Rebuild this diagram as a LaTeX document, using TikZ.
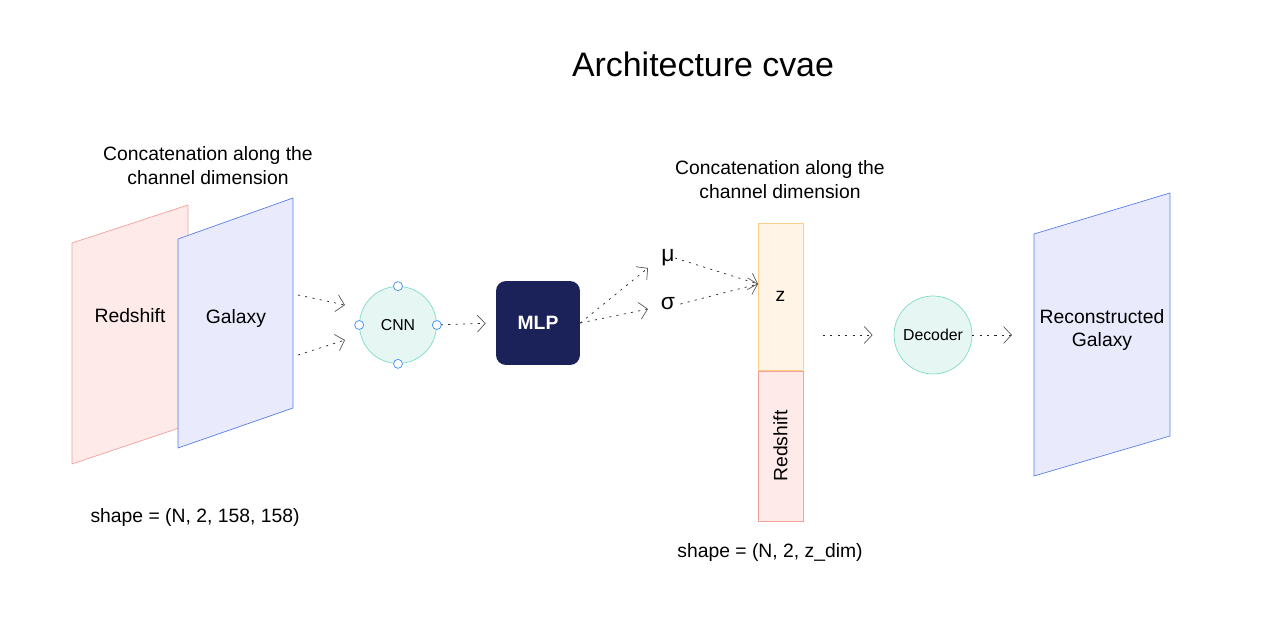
\documentclass[tikz,border=0pt]{standalone}
\usepackage{fontspec}
\setmainfont{Liberation Sans}
\usetikzlibrary{arrows.meta,positioning}

\definecolor{rosa}{HTML}{FFEAEA}
\definecolor{rosaborda}{HTML}{F3A09C}
\definecolor{azul}{HTML}{E9EBFC}
\definecolor{azulborda}{HTML}{5A7FE6}
\definecolor{creme}{HTML}{FFF4E6}
\definecolor{cremeborda}{HTML}{FBD08A}
\definecolor{verde}{HTML}{E6F6F2}
\definecolor{verdeborda}{HTML}{7FDCC8}
\definecolor{marinho}{HTML}{1B2259}
\definecolor{alca}{HTML}{3D8FF2}

\begin{document}
\begin{tikzpicture}[x=0.02cm, y=-0.02cm, font=\fontsize{11}{13.6}\selectfont,
    seta/.style={-{Straight Barb[length=1.6mm,width=3.4mm,color=black!65]}, dash pattern=on 1.2pt off 3pt, black!85, thin},
    bola/.style={circle, draw=verdeborda, fill=verde, minimum size=1.54cm, inner sep=0pt, font=\fontsize{9}{10}\selectfont},
    alcabox/.style={circle, draw=alca, fill=white, minimum size=0.18cm, inner sep=0pt},
    texto/.style={align=center, inner sep=0pt}]
    \useasboundingbox (0,0) rectangle (1265,624);

    % Titulo
    \node[texto, font=\fontsize{19.3}{22}\selectfont] (titulo) at (703,64) {Architecture cvae};

    % Entrada
    \node[texto] (concat1) at (208,166) {Concatenation along the\\channel dimension};
    \filldraw[draw=rosaborda, fill=rosa] (72,243) -- (188,205) -- (188,425) -- (72,464) -- cycle;
    \filldraw[draw=azulborda, fill=azul] (178,239) -- (293,198) -- (293,408) -- (178,448) -- cycle;
    \node[texto] (red) at (130,316) {Redshift};
    \node[texto] (gal) at (236,319) {Galaxy};
    \node[texto] (shape1) at (195,518) {shape = (N, 2, 158, 158)};
    \coordinate (g1) at (298,295);
    \coordinate (g2) at (298,355);
    \coordinate (c1) at (345,305);
    \coordinate (c2) at (345,340);

    % CNN
    \node[bola] (cnn) at (398,325) {CNN};
    \foreach \a in {north,south,east,west}
        \node[alcabox] at (cnn.\a) {};
    \draw[seta] (g1) -- (c1);
    \draw[seta] (g2) -- (c2);

    % MLP
    \node[fill=marinho, rounded corners=0.2cm, minimum size=1.68cm, text=white, font=\fontsize{11}{13}\bfseries] (mlp) at (538,323) {MLP};
    \draw[seta, shorten <=0.08cm, shorten >=0.2cm] (cnn.east) -- (mlp.west);

    % mu e sigma
    \node[texto, font=\fontsize{13}{15}\selectfont] (mu) at (668,258) {μ};
    \node[texto, font=\fontsize{13}{15}\selectfont] (sigma) at (668,304) {σ};
    \coordinate (m1) at (648,268);
    \coordinate (s1) at (648,309);
    \draw[seta] (mlp.east) -- (m1);
    \draw[seta] (mlp.east) -- (s1);

    % Espaco latente
    \node[texto] (concat2) at (780,180) {Concatenation along the\\channel dimension};
    \node[draw=cremeborda, fill=creme, minimum width=0.9cm, minimum height=2.94cm, anchor=north] (z) at (780.5,223) {z};
    \node[draw=rosaborda, fill=rosa, minimum width=0.9cm, minimum height=3cm, below=0pt of z] (zred) {\rotatebox{90}{Redshift}};
    \node[texto] (shape2) at (770,553) {shape = (N, 2, z\_dim)};
    \coordinate (zin) at (758,284);
    \draw[seta] (mu.east) -- (zin);
    \draw[seta] ([xshift=0.1cm]sigma.east) -- (zin);

    % Decoder
    \node[bola, minimum size=1.56cm] (dec) at (933,335) {Decoder};
    \coordinate (d1) at (823,335);
    \coordinate (d2) at (1012,335);
    \draw[seta, shorten >=0.42cm] (d1) -- (dec.west);
    \draw[seta] (dec.east) -- (d2);

    % Saida
    \filldraw[draw=azulborda, fill=azul] (1034,234) -- (1170,193) -- (1170,436) -- (1034,476) -- cycle;
    \node[texto] (rec) at (1102,330) {Reconstructed\\Galaxy};
\end{tikzpicture}
\end{document}
